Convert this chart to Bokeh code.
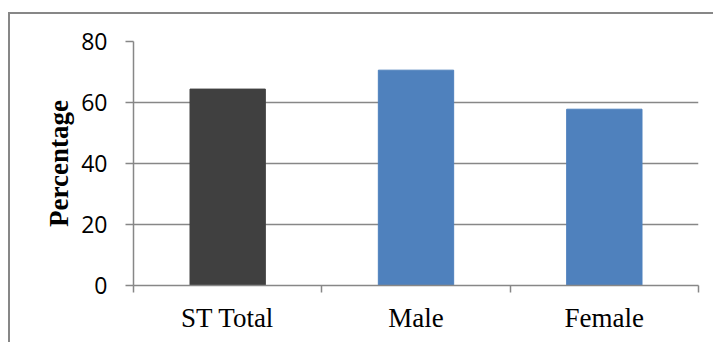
from bokeh.plotting import figure
from bokeh.models import ColumnDataSource, FixedTicker, Range1d
from bokeh.embed import file_html
from bokeh.resources import INLINE

categories = ["ST Total", "Male", "Female"]
values = [64.4, 70.6, 57.8]
colors = ["#404040", "#4F81BD", "#4F81BD"]
y_ticks = [0, 20, 40, 60, 80]

xpos = [i + 0.5 for i in range(len(categories))]
src = ColumnDataSource(dict(x=xpos, top=values, color=colors))

p = figure(width=705, height=330, output_backend="svg", toolbar_location=None,
           x_range=Range1d(0, len(categories)), y_range=Range1d(0, 80),
           min_border_left=123, min_border_right=17, min_border_top=27,
           min_border_bottom=59)
p.margin = (12, 0, 0, 8)
p.styles = {"border-left": "2px solid #878787", "border-top": "2px solid #878787"}
p.outline_line_color = None
p.background_fill_color = "white"
p.border_fill_color = "white"

p.vbar(x="x", top="top", width=0.4, bottom=0, color="color", source=src)

# grid
p.xgrid.visible = False
p.ygrid.ticker = FixedTicker(ticks=y_ticks)
p.ygrid.grid_line_color = "#878787"
p.ygrid.grid_line_width = 1.5

# y axis
p.yaxis.ticker = FixedTicker(ticks=y_ticks)
p.yaxis.axis_line_color = "#878787"
p.yaxis.axis_line_width = 1.5
p.yaxis.major_tick_line_color = "#878787"
p.yaxis.major_tick_line_width = 1.5
p.yaxis.major_tick_in = 0
p.yaxis.major_tick_out = 8
p.yaxis.minor_tick_line_color = None
p.yaxis.major_label_text_font = "Open Sans"
p.yaxis.major_label_text_font_size = "23px"
p.yaxis.major_label_text_color = "#000000"
p.yaxis.major_label_standoff = 18
p.yaxis.axis_label = "Percentage"
p.yaxis.axis_label_text_font = "Liberation Serif"
p.yaxis.axis_label_text_font_style = "bold"
p.yaxis.axis_label_text_font_size = "27px"
p.yaxis.axis_label_text_color = "#000000"
p.yaxis.axis_label_standoff = 4

# x axis
p.xaxis.ticker = FixedTicker(ticks=xpos, minor_ticks=list(range(len(categories) + 1)))
p.xaxis.major_label_overrides = {x: c for x, c in zip(xpos, categories)}
p.xaxis.axis_line_color = "#878787"
p.xaxis.axis_line_width = 1.5
p.xaxis.major_tick_out = 0
p.xaxis.major_tick_in = 0
p.xaxis.major_tick_line_color = None
p.xaxis.minor_tick_line_color = "#878787"
p.xaxis.minor_tick_line_width = 1.5
p.xaxis.minor_tick_in = 0
p.xaxis.minor_tick_out = 7
p.xaxis.major_label_text_font = "Liberation Serif"
p.xaxis.major_label_text_font_size = "27px"
p.xaxis.major_label_text_color = "#000000"
p.xaxis.major_label_standoff = 10

open("out.html", "w").write(file_html(p, INLINE))
